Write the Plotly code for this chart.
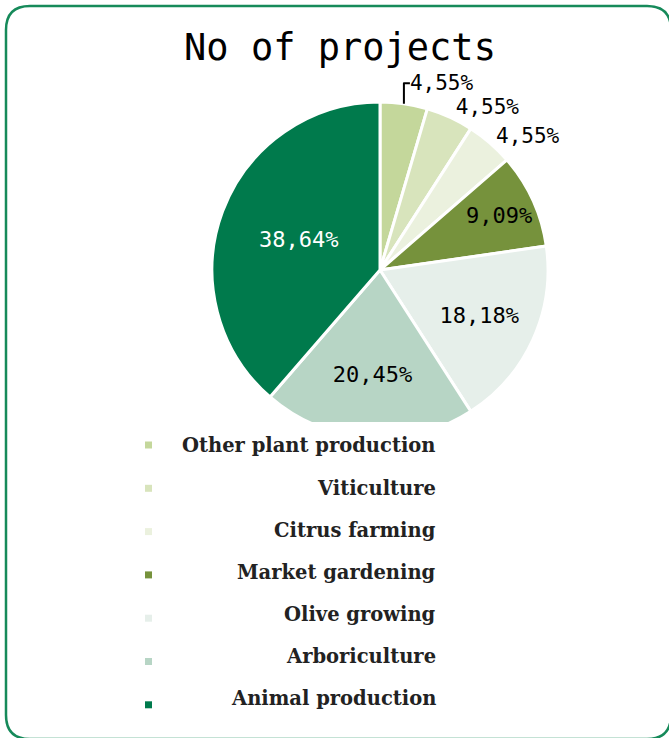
import plotly.graph_objects as go

# Data: number of projects per sector (44 in total)
labels = ["Other plant production", "Viticulture", "Citrus farming",
          "Market gardening", "Olive growing", "Arboriculture", "Animal production"]
projects = [2, 2, 2, 4, 8, 9, 17]
colors = ["#c4d79b", "#d8e4bc", "#ebf1de", "#76923c", "#e6efea", "#b7d5c5", "#007a4c"]
text_colors = ["black", "black", "black", "black", "black", "black", "white"]

W, H = 669, 738


def px(x):
    return x / W


def py(y):
    return 1 - y / H


fig = go.Figure(go.Pie(
    labels=labels,
    values=projects,
    sort=False,
    direction="clockwise",
    rotation=0,
    marker=dict(colors=colors, line=dict(color="white", width=3)),
    texttemplate="%{percent:.2%}",
    textposition="auto",
    insidetextorientation="horizontal",
    insidetextfont=dict(color=text_colors, family="DejaVu Sans Mono", size=22),
    outsidetextfont=dict(color="black", family="DejaVu Sans Mono", size=21),
    domain=dict(x=[px(212), px(548)], y=[py(438), py(102)]),
    showlegend=False,
    hoverinfo="label+value+percent",
))

shapes = []
# rounded frame
r = 24
x0, y0, x1, y1 = 6, 6, 671, 739
path = (f"M {px(x0 + r)},{py(y0)} L {px(x1 - r)},{py(y0)} "
        f"Q {px(x1)},{py(y0)} {px(x1)},{py(y0 + r)} L {px(x1)},{py(y1 - r)} "
        f"Q {px(x1)},{py(y1)} {px(x1 - r)},{py(y1)} L {px(x0 + r)},{py(y1)} "
        f"Q {px(x0)},{py(y1)} {px(x0)},{py(y1 - r)} L {px(x0)},{py(y0 + r)} "
        f"Q {px(x0)},{py(y0)} {px(x0 + r)},{py(y0)} Z")
shapes.append(dict(type="path", xref="paper", yref="paper", path=path,
                   line=dict(color="#168a5a", width=2.5), layer="above"))
# the legend box covers the bottom of the pie
shapes.append(dict(type="rect", xref="paper", yref="paper",
                   x0=px(250), x1=px(520), y0=py(446), y1=py(422),
                   fillcolor="white", line=dict(width=0), layer="above"))

annotations = []
for i, (lab, col) in enumerate(zip(labels, colors)):
    sy = 445 + i * 43.3
    ty = 446 + i * 42.1
    shapes.append(dict(type="rect", xref="paper", yref="paper",
                       x0=px(145), x1=px(152), y0=py(sy + 3.5), y1=py(sy - 3.5),
                       fillcolor=col, line=dict(width=0), layer="above"))
    annotations.append(dict(text=f"<b>{lab}</b>", xref="paper", yref="paper",
                            x=px(438), y=py(ty), xanchor="right", yanchor="middle",
                            showarrow=False,
                            font=dict(family="DejaVu Serif", size=19.5, color="#222222")))

fig.update_layout(
    width=W, height=H,
    margin=dict(l=0, r=0, t=0, b=0),
    paper_bgcolor="white",
    separators=",.",
    title=dict(text="No of projects", x=px(340), xanchor="center",
               y=py(47), yanchor="middle",
               font=dict(family="DejaVu Sans Mono", size=37, color="black")),
    shapes=shapes,
    annotations=annotations,
)

fig.write_html("out.html", config={"displayModeBar": False},
               post_script="document.body.style.margin = '0';")
